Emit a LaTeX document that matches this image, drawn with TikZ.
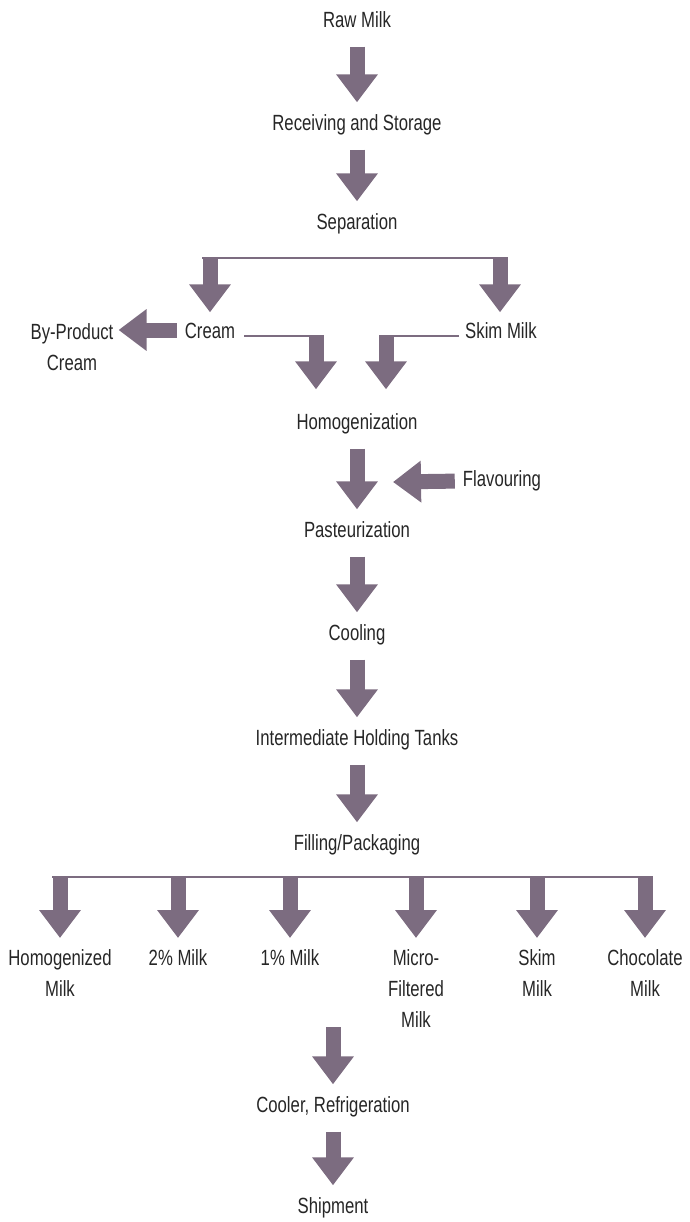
\documentclass[tikz,border=0pt]{standalone}
\usepackage{fontspec}
\setmainfont[FakeStretch=0.76]{Liberation Sans}
\usetikzlibrary{arrows.meta}
\usetikzlibrary{positioning}
\definecolor{milkgrey}{RGB}{124,108,128}
\tikzset{
  lbl/.style={font=\fontsize{22}{31}\selectfont, text=black!85, inner sep=0pt, align=center},
  stage/.style={lbl, text height=15pt, text depth=4pt},
  flow/.style={draw=milkgrey, line width=15pt, -{Triangle[length=28pt,width=40pt]},
    shorten <=15pt, shorten >=13pt},
  drop/.style={flow, shorten <=0pt, shorten >=11pt},
  bar/.style={draw=milkgrey, line width=2pt},
}
\begin{document}
\begin{tikzpicture}[x=1pt,y=-1pt]
\useasboundingbox (0,0) rectangle (689,1222);
% stages
\node[stage] (raw) at (357,22) {Raw Milk};
\node[stage] (recv) at (357,125) {Receiving and Storage};
\node[stage] (sep) at (357,224) {Separation};
\node[stage] (cream) at (210,333) {Cream};
\node[stage] (skim) at (501,333) {Skim Milk};
\node[lbl, anchor=north] (byprod) at (72,323) {By-Product\\Cream};
\node[stage] (homog) at (357,424) {Homogenization};
\node[stage] (flav) at (502,481) {Flavouring};
\node[stage] (past) at (357,532) {Pasteurization};
\node[stage] (cool) at (357,635) {Cooling};
\node[stage] (hold) at (357,740) {Intermediate Holding Tanks};
\node[stage] (fill) at (357,845) {Filling/Packaging};
\node[stage] (cooler) at (333,1107) {Cooler, Refrigeration};
\node[stage] (ship) at (333,1208) {Shipment};

\coordinate (sepL) at (210,258);
\coordinate (sepR) at (500,258);
\coordinate (cj) at (316,336);
\coordinate (sj) at (386,336);
\coordinate (flavtip) at (393,482);
\coordinate (mix) at (333,1027);

\draw[flow] (raw) -- (recv);
\draw[flow] (recv) -- (sep);
\draw[bar] ([xshift=-8pt]sepL) -- ([xshift=8pt]sepR);
\draw[drop] (sepL) -- (sepL |- cream.north);
\draw[drop] (sepR) -- (sepR |- skim.north);
\draw[flow, shorten <=8pt, shorten >=5pt] ([yshift=3pt]cream.west) -- ([yshift=3pt]cream.west -| byprod.east);
\draw[bar, shorten <=9pt] (cj -| cream.east) -- ([xshift=7.5pt]cj);
\draw[bar, shorten <=6pt] (sj -| skim.west) -- ([xshift=-7.5pt]sj);
\draw[drop, shorten >=25pt] ([yshift=-1pt]cj) -- (cj |- homog.north);
\draw[drop, shorten >=25pt] ([yshift=-1pt]sj) -- (sj |- homog.north);
\draw[flow] (homog) -- (past);
\draw[flow, shorten <=8pt, shorten >=0pt] (flav.west) -- (flavtip);
\draw[flow] (past) -- (cool);
\draw[flow] (cool) -- (hold);
\draw[flow] (hold) -- (fill);

% products
\foreach \px/\pn/\ptxt in {60/homo/{Homogenized\\Milk}, 178/two/{2\% Milk},
    290/one/{1\% Milk}, 416/micro/{Micro-\\Filtered\\Milk},
    537/skimp/{Skim\\Milk}, 645/choc/{Chocolate\\Milk}}
{
  \coordinate (d\pn) at (\px,877);
  \node[lbl, anchor=north] (\pn) at (\px,949) {\ptxt};
  \draw[drop] (d\pn) -- (\pn);
}
\draw[bar] ([xshift=-8pt]dhomo) -- ([xshift=8pt]dchoc);

\draw[flow, shorten <=0pt] (mix) -- (mix |- cooler.north);
\draw[flow] (cooler) -- (ship);
\end{tikzpicture}
\end{document}
